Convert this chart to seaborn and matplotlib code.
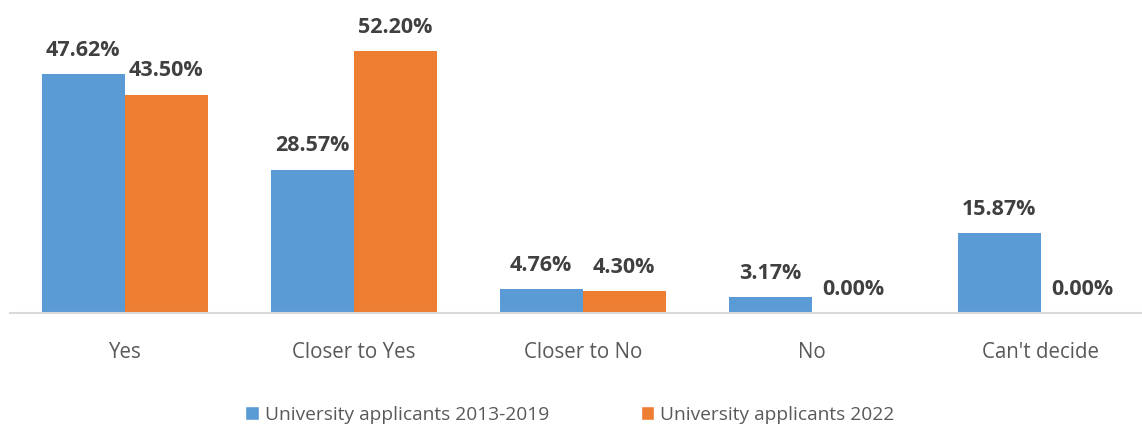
import matplotlib
matplotlib.use("Agg")
import matplotlib.pyplot as plt
import seaborn as sns
import pandas as pd
from matplotlib.patches import Patch

categories = ["Yes", "Closer to Yes", "Closer to No", "No", "Can't decide"]
series_names = ["University applicants 2013-2019", "University applicants 2022"]
values_2013_2019 = [47.62, 28.57, 4.76, 3.17, 15.87]
values_2022 = [43.50, 52.20, 4.30, 0.00, 0.00]
colors = ["#5B9BD5", "#ED7D31"]

rows = []
for c, v in zip(categories, values_2013_2019):
    rows.append({"category": c, "series": series_names[0], "value": v})
for c, v in zip(categories, values_2022):
    rows.append({"category": c, "series": series_names[1], "value": v})
df = pd.DataFrame(rows)

sns.set_theme(style="white")
plt.rcParams['font.family'] = ['Open Sans', 'DejaVu Sans']

fig = plt.figure(figsize=(11.42, 4.26), dpi=100)
ax = fig.add_axes([10/1142, (426-313)/426, 1 - 10/1142, 313/426])

sns.barplot(data=df, x="category", y="value", hue="series", order=categories,
            hue_order=series_names, palette=colors, width=0.725, saturation=1,
            ax=ax, legend=False, linewidth=0)

ax.set_ylim(0, 313/5.02)
ax.set_xlim(-0.5, (1142-125)/229)
for s in ["top", "right", "left"]:
    ax.spines[s].set_visible(False)
ax.spines["bottom"].set_color("#D9D9D9")
ax.spines["bottom"].set_linewidth(1.5)
ax.set_yticks([])
ax.set_xlabel("")
ax.set_ylabel("")
ax.tick_params(axis="x", length=0, pad=21, labelsize=14.8, labelcolor="#595959")

for cont in ax.containers:
    for bar in cont:
        h = bar.get_height()
        ax.annotate(f"{h:.2f}%", (bar.get_x() + bar.get_width()/2, h),
                    xytext=(0, 9.5), textcoords="offset points",
                    ha="center", va="bottom", fontsize=15.5, fontweight="bold",
                    color="#404040")

handles = [Patch(facecolor=colors[0]), Patch(facecolor=colors[1])]
fig.legend(handles, series_names, loc="lower center", bbox_to_anchor=(0.499, -0.035),
           ncol=2, frameon=False, fontsize=13.8, labelcolor="#595959",
           handlelength=0.7, handleheight=0.7, handletextpad=0.3, columnspacing=4.8)

fig.savefig("out.png", dpi=100)
